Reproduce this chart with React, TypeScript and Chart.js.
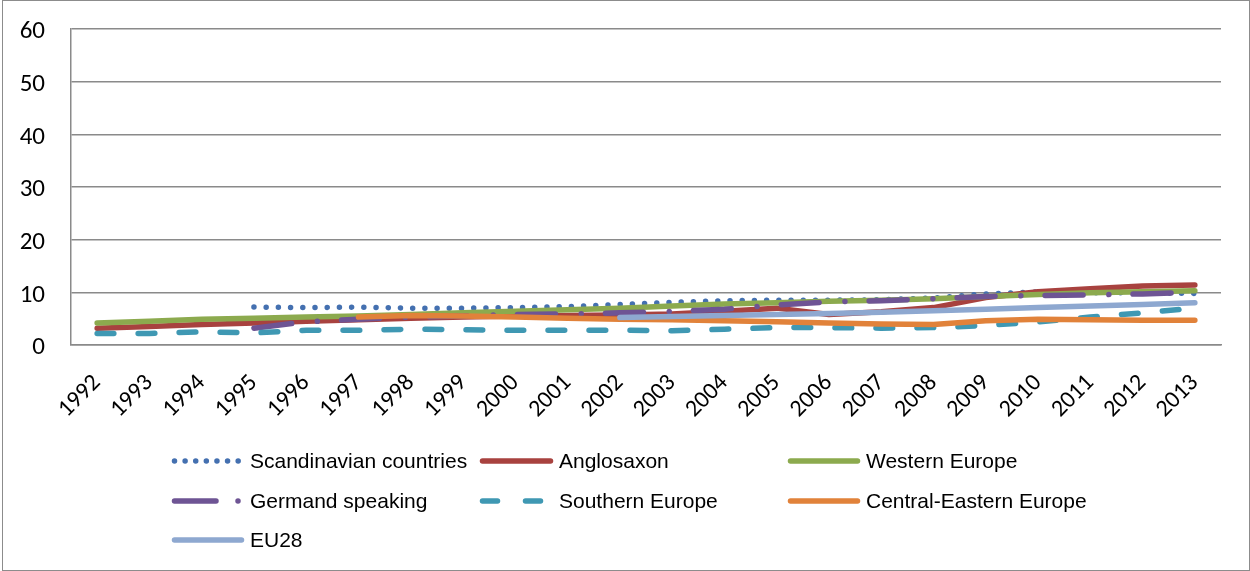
import { useEffect, useRef } from 'react';
import { Chart, registerables } from 'chart.js';

Chart.register(...registerables);

// Years on the category axis
const years = [
  '1992', '1993', '1994', '1995', '1996', '1997', '1998', '1999', '2000', '2001', '2002',
  '2003', '2004', '2005', '2006', '2007', '2008', '2009', '2010', '2011', '2012', '2013',
];

// Series values per year (null = no data for that year)
const scandinavian = [null, null, null, 7.2, 7.1, 7.2, 7.0, 7.0, 7.1, 7.3, 7.7, 8.1, 8.4, 8.5, 8.5, 8.6, 8.9, 9.7, 10.1, 9.9, 9.9, 9.8];
const anglosaxon = [3.2, 3.5, 3.9, 4.2, 4.5, 4.8, 5.1, 5.3, 5.5, 5.6, 5.7, 5.9, 6.4, 7.0, 5.8, 6.3, 7.1, 9.0, 10.1, 10.7, 11.2, 11.4];
const westernEurope = [4.2, 4.5, 4.9, 5.1, 5.3, 5.5, 5.8, 6.1, 6.4, 6.7, 7.0, 7.4, 7.8, 8.0, 8.3, 8.5, 8.8, 9.2, 9.6, 9.9, 10.1, 10.3];
const germandSpeaking = [null, null, null, 3.2, 4.4, 4.9, 5.3, 5.5, 5.8, 5.9, 6.1, 6.4, 6.8, 7.6, 8.2, 8.4, 8.8, 9.2, 9.4, 9.5, 9.7, 10.0];
const southernEurope = [2.2, 2.2, 2.5, 2.3, 2.8, 2.8, 3.0, 2.9, 2.8, 2.8, 2.8, 2.7, 3.0, 3.3, 3.3, 3.2, 3.3, 3.7, 4.4, 5.3, 6.1, 7.0];
const centralEastern = [null, null, null, null, null, 5.3, 5.6, 5.5, 5.3, 5.1, 4.9, 4.8, 4.6, 4.4, 4.2, 4.0, 3.9, 4.6, 4.9, 4.8, 4.7, 4.7];
const eu28 = [null, null, null, null, null, null, null, null, null, null, 5.2, 5.4, 5.6, 5.8, 6.0, 6.2, 6.5, 6.8, 7.1, 7.4, 7.7, 8.0];

const yTicks = [0, 10, 20, 30, 40, 50, 60];

// Line styles: colour, dash pattern on the plot, dash pattern in the legend sample
const styles = [
  { label: 'Scandinavian countries', data: scandinavian, color: '#4470B0', dash: [0.01, 12.2], legendDash: [0.01, 10.6] },
  { label: 'Anglosaxon', data: anglosaxon, color: '#A8423F', dash: [], legendDash: [] },
  { label: 'Western Europe', data: westernEurope, color: '#8CAA4E', dash: [], legendDash: [] },
  { label: 'Germand speaking', data: germandSpeaking, color: '#6E5494', dash: [38, 25.8, 0.01, 24.2], legendDash: [41.5, 22, 0.01, 40] },
  { label: 'Southern Europe', data: southernEurope, color: '#3F98B3', dash: [16.7, 24.3], legendDash: [15, 28] },
  { label: 'Central-Eastern Europe', data: centralEastern, color: '#E1823A', dash: [], legendDash: [] },
  { label: 'EU28', data: eu28, color: '#8EA8D0', dash: [], legendDash: [] },
];

const LINE_WIDTH = 5.5;

// Legend drawn as a three-column grid below the axis labels
const gridLegend = {
  id: 'gridLegend',
  afterDraw(chart: any) {
    const ctx = chart.ctx as CanvasRenderingContext2D;
    const lineX = [169, 477, 785];
    const textX = [247, 556, 863];
    const rowY = [460, 500, 539];
    styles.forEach((s, i) => {
      const col = i % 3;
      const y = rowY[Math.floor(i / 3)];
      ctx.save();
      ctx.strokeStyle = s.color;
      ctx.lineWidth = LINE_WIDTH;
      ctx.lineCap = 'round';
      ctx.setLineDash(s.legendDash);
      ctx.beginPath();
      ctx.moveTo(lineX[col] + 2.5, y);
      ctx.lineTo(textX[col] - 8.5, y);
      ctx.stroke();
      ctx.setLineDash([]);
      ctx.fillStyle = '#000';
      ctx.font = '21px "Liberation Sans", Arial, sans-serif';
      ctx.textBaseline = 'middle';
      ctx.textAlign = 'left';
      ctx.fillText(s.label, textX[col], y + 1);
      ctx.restore();
    });
  },
};

export default function App() {
  const canvasRef = useRef<HTMLCanvasElement>(null);

  useEffect(() => {
    document.body.style.margin = '0';
    const canvas = canvasRef.current;
    if (!canvas) return;

    const xTickFont = { family: 'Carlito, Lato, sans-serif', size: 24 };
    const yTickFont = { family: 'Carlito, Lato, sans-serif', size: 25 };

    const chart = new Chart(canvas, {
      type: 'line',
      data: {
        labels: years,
        datasets: styles.map((s, i) => ({
          label: s.label,
          data: s.data,
          borderColor: s.color,
          backgroundColor: s.color,
          borderWidth: LINE_WIDTH,
          borderDash: s.dash,
          borderCapStyle: 'round' as const,
          borderJoinStyle: 'round' as const,
          pointRadius: 0,
          pointHoverRadius: 0,
          tension: 0,
          fill: false,
          spanGaps: false,
          order: styles.length - 1 - i,
        })),
      },
      options: {
        responsive: false,
        animation: false,
        layout: { padding: { top: 28, right: 28, bottom: 0, left: 0 } },
        plugins: {
          legend: { display: false },
          tooltip: { enabled: false },
        },
        scales: {
          x: {
            type: 'category',
            offset: true,
            grid: { display: false, drawTicks: false },
            border: { display: true, color: '#8a8a8a', width: 1.5 },
            ticks: {
              color: '#000',
              font: xTickFont,
              minRotation: 45,
              maxRotation: 45,
              autoSkip: false,
              padding: 24,
            },
            afterFit: (scale: any) => {
              scale.height = 225;
            },
          },
          y: {
            min: 0,
            max: 60,
            afterBuildTicks: (scale: any) => {
              scale.ticks = yTicks.map((v) => ({ value: v }));
            },
            grid: { color: '#8a8a8a', lineWidth: 1.5, drawTicks: false },
            border: { display: true, color: '#8a8a8a', width: 1.5 },
            ticks: { color: '#000', font: yTickFont, padding: 26, labelOffset: 3 },
            afterFit: (scale: any) => {
              scale.width = 68;
              scale.paddingTop = 0;
              scale.paddingBottom = 0;
            },
          },
        },
      },
      plugins: [gridLegend],
    });

    return () => chart.destroy();
  }, []);

  return (
    <div
      style={{
        position: 'absolute',
        left: 2,
        top: 0,
        width: 1248,
        height: 571,
        border: '1px solid #8c8c8c',
        boxSizing: 'border-box',
        background: '#fff',
      }}
    >
      <canvas ref={canvasRef} width={1246} height={569} style={{ display: 'block' }} />
    </div>
  );
}
